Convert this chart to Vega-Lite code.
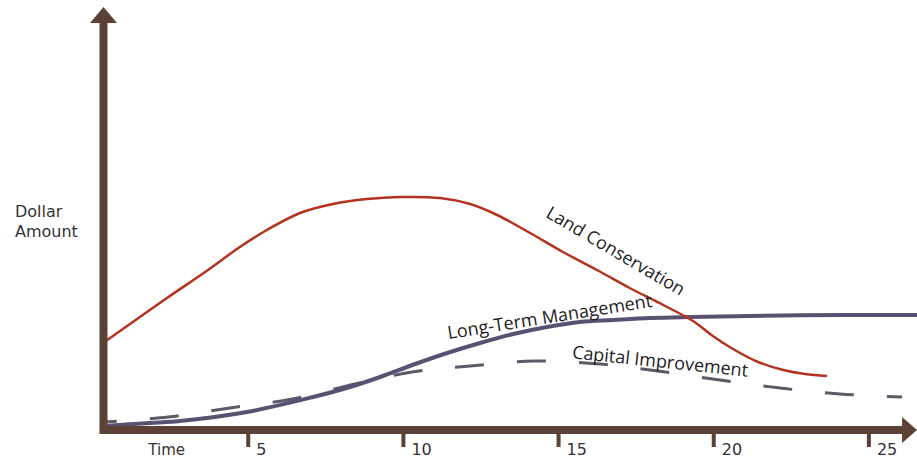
{
  "$schema": "https://vega.github.io/schema/vega-lite/v6.json",
  "width": 917,
  "height": 459,
  "autosize": {"type": "none"},
  "padding": 0,
  "background": "white",
  "config": {"view": {"stroke": null}},
  "datasets": {
    "land": [
      {"t": 0.32, "v": 87}, {"t": 2.38, "v": 132}, {"t": 3.61, "v": 158}, {"t": 4.73, "v": 183},
      {"t": 5.6, "v": 200}, {"t": 6.67, "v": 217}, {"t": 7.73, "v": 226}, {"t": 8.83, "v": 231},
      {"t": 9.89, "v": 233}, {"t": 11.18, "v": 232}, {"t": 12.15, "v": 226}, {"t": 13.02, "v": 215},
      {"t": 14.08, "v": 197}, {"t": 15.14, "v": 178}, {"t": 16.24, "v": 160}, {"t": 17.29, "v": 142},
      {"t": 18.37, "v": 125}, {"t": 19.33, "v": 109}, {"t": 19.97, "v": 94}, {"t": 20.62, "v": 81},
      {"t": 21.43, "v": 68}, {"t": 22.24, "v": 60}, {"t": 22.94, "v": 56}, {"t": 23.65, "v": 54}
    ],
    "ltm": [
      {"t": 0.35, "v": 4}, {"t": 1.83, "v": 7}, {"t": 2.8, "v": 9}, {"t": 4.96, "v": 18},
      {"t": 7.09, "v": 33}, {"t": 8.28, "v": 43}, {"t": 9.25, "v": 53}, {"t": 10.38, "v": 66},
      {"t": 11.41, "v": 77}, {"t": 12.47, "v": 87}, {"t": 13.54, "v": 96}, {"t": 14.63, "v": 103},
      {"t": 15.69, "v": 108}, {"t": 16.76, "v": 110}, {"t": 17.95, "v": 112}, {"t": 19.24, "v": 113},
      {"t": 21.17, "v": 114}, {"t": 24.07, "v": 115}, {"t": 26.55, "v": 115}
    ],
    "cap": [
      {"t": 0.35, "v": 8}, {"t": 2.42, "v": 13}, {"t": 4.41, "v": 22}, {"t": 6.41, "v": 31},
      {"t": 8.44, "v": 46}, {"t": 10.28, "v": 58}, {"t": 12.15, "v": 64}, {"t": 14.24, "v": 69},
      {"t": 16.34, "v": 66}, {"t": 18.2, "v": 59}, {"t": 20.2, "v": 50}, {"t": 22.14, "v": 42},
      {"t": 24.07, "v": 36}, {"t": 26.07, "v": 33}
    ],
    "ticks": [
      {"t": 5, "v": 0, "v2": -17, "label": "5"},
      {"t": 10, "v": 0, "v2": -17, "label": "10"},
      {"t": 15, "v": 0, "v2": -17, "label": "15"},
      {"t": 20, "v": 0, "v2": -17, "label": "20"},
      {"t": 25, "v": 0, "v2": -17, "label": "25"}
    ]
  },
  "encoding": {
    "x": {"field": "t", "type": "quantitative", "scale": {"domain": [-3, 26.55], "nice": false, "zero": false}, "axis": null},
    "y": {"field": "v", "type": "quantitative", "scale": {"domain": [-29, 430], "nice": false, "zero": false}, "axis": null}
  },
  "layer": [
    {
      "data": {"name": "cap"},
      "mark": {"type": "line", "interpolate": "catmull-rom", "color": "#5c5a68", "strokeWidth": 3, "strokeDash": [29, 33], "strokeDashOffset": 16, "strokeCap": "butt"},
      "encoding": {}
    },
    {
      "data": {"name": "ltm"},
      "mark": {"type": "line", "interpolate": "catmull-rom", "color": "#5a5072", "strokeWidth": 4},
      "encoding": {}
    },
    {
      "data": {"name": "land"},
      "mark": {"type": "line", "interpolate": "catmull-rom", "color": "#b5321f", "strokeWidth": 2.5},
      "encoding": {}
    },
    {
      "data": {"values": [{"t": 0.335, "v": -4, "v2": 408}]},
      "mark": {"type": "rule", "color": "#5b4136", "strokeWidth": 8},
      "encoding": {"y2": {"field": "v2"}}
    },
    {
      "data": {"values": [{"t": 0.22, "t2": 26.1, "v": 0}]},
      "mark": {"type": "rule", "color": "#5b4136", "strokeWidth": 8},
      "encoding": {"x2": {"field": "t2"}}
    },
    {
      "data": {"name": "ticks"},
      "mark": {"type": "rule", "color": "#5b4136", "strokeWidth": 4},
      "encoding": {"y2": {"field": "v2"}}
    },
    {
      "data": {"values": [{"t": 0.335, "v": 415}]},
      "mark": {"type": "point", "shape": "M-1,0.593L0,-0.593L1,0.593Z", "size": 729, "filled": true, "color": "#5b4136", "opacity": 1, "strokeWidth": 0},
      "encoding": {}
    },
    {
      "data": {"values": [{"t": 26.31, "v": 0}]},
      "mark": {"type": "point", "shape": "M-0.577,-1L0.577,0L-0.577,1Z", "size": 676, "filled": true, "color": "#5b4136", "opacity": 1, "strokeWidth": 0},
      "encoding": {}
    },
    {
      "data": {"name": "ticks"},
      "mark": {"type": "text", "align": "left", "baseline": "middle", "dx": 8, "dy": 20, "font": "DejaVu Sans", "fontSize": 16, "color": "#333333"},
      "encoding": {"text": {"field": "label"}}
    },
    {
      "data": {"values": [{"t": 2.37, "v": -20, "label": "Time"}]},
      "mark": {"type": "text", "align": "center", "baseline": "middle", "font": "DejaVu Sans", "fontSize": 15, "color": "#333333"},
      "encoding": {"text": {"field": "label"}}
    },
    {
      "data": {"values": [{"t": -2.517, "v": 218.5, "label": "Dollar"}, {"t": -2.517, "v": 198.5, "label": "Amount"}]},
      "mark": {"type": "text", "align": "left", "baseline": "middle", "font": "DejaVu Sans", "fontSize": 16, "color": "#333333"},
      "encoding": {"text": {"field": "label"}}
    },
    {
      "data": {"values": [{"t": 16.82, "v": 178, "label": "Land Conservation"}]},
      "mark": {"type": "text", "align": "center", "baseline": "middle", "angle": 30.5, "font": "Open Sans", "fontSize": 18, "color": "#222222"},
      "encoding": {"text": {"field": "label"}}
    },
    {
      "data": {"values": [{"t": 14.72, "v": 112, "label": "Long-Term Management"}]},
      "mark": {"type": "text", "align": "center", "baseline": "middle", "angle": -9, "font": "Open Sans", "fontSize": 18, "color": "#222222"},
      "encoding": {"text": {"field": "label"}}
    },
    {
      "data": {"values": [{"t": 18.27, "v": 67.5, "label": "Capital Improvement"}]},
      "mark": {"type": "text", "align": "center", "baseline": "middle", "angle": 6, "font": "Open Sans", "fontSize": 18, "color": "#222222"},
      "encoding": {"text": {"field": "label"}}
    }
  ]
}
